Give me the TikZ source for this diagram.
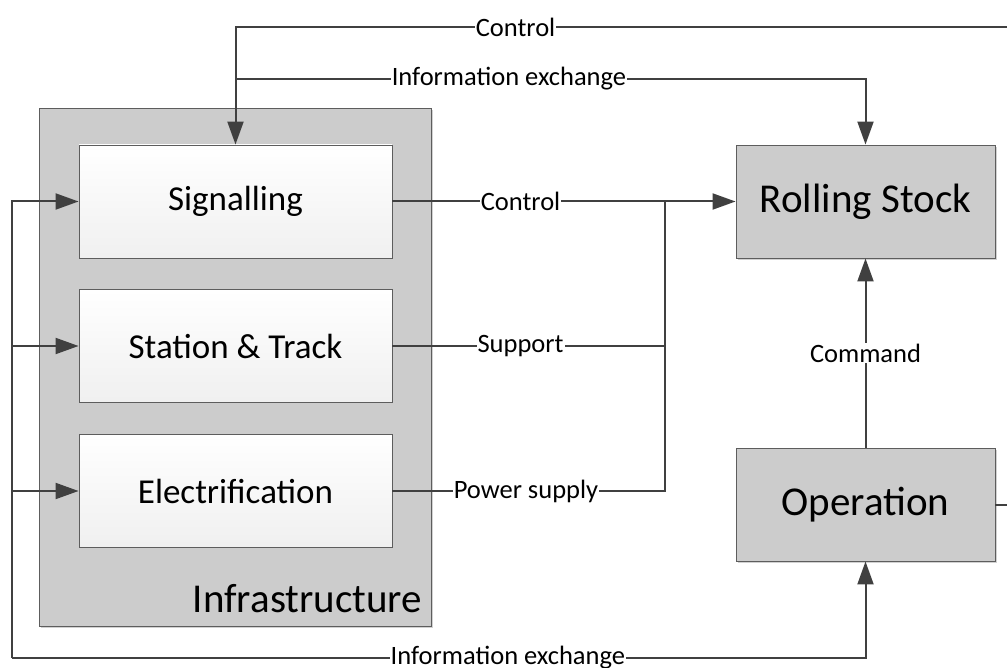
\documentclass[tikz,border=0pt]{standalone}
\usepackage{fontspec}
\setmainfont{Carlito}
\usetikzlibrary{arrows.meta,positioning,shadows}
\definecolor{linegray}{HTML}{404040}
\definecolor{boxgray}{HTML}{CCCCCC}
\tikzset{
  flow/.style={draw=linegray, line width=2pt},
  tip/.style={flow, -{Triangle[length=23pt,width=16pt]}},
  frame/.style={draw=linegray!85, line width=0.9pt},
  infra/.style={frame, fill=boxgray, minimum width=392pt, minimum height=518pt,
    drop shadow={shadow xshift=2pt, shadow yshift=-2pt, fill=gray!45, opacity=0.8}},
  part/.style={frame, top color=white, bottom color=gray!12,
    minimum width=313pt, minimum height=113pt, font=\fontsize{35}{40}\selectfont},
  unit/.style={frame, fill=boxgray, minimum width=259pt, minimum height=113pt,
    font=\fontsize{41}{48}\selectfont,
    drop shadow={shadow xshift=2pt, shadow yshift=-2pt, fill=gray!45, opacity=0.8}},
  tag/.style={fill=white, inner sep=1pt, font=\fontsize{26.5}{30}\selectfont},
}
\begin{document}
\begin{tikzpicture}[x=1pt, y=-1pt]
  \useasboundingbox (0,0) rectangle (1007,668);

  % infrastructure and its parts
  \node[infra] (infra) at (235,367) {};
  \node[anchor=base east, font=\fontsize{41}{48}\selectfont]
    (infralabel) at ([xshift=-6pt, yshift=14pt]infra.south east) {Infrastructure};
  \node[part] (sig) at (235.5,201.5) {Signalling};
  \node[part] (stat) at (235.5,346) {Station \& Track};
  \node[part] (elec) at (235.5,491) {Electrification};

  % rolling stock and operation
  \node[unit] (roll) at (865.5,201.5) {Rolling Stock};
  \node[unit] (oper) at (865.5,504.5) {Operation};

  % junctions and loose ends
  \coordinate (ctlend) at (1007,27);
  \coordinate (infotop) at (235.5,79);
  \coordinate (jbus) at (665,201.5);
  \coordinate (opend) at (1007,504.5);
  \coordinate (botleft) at (12,658);

  % top lines
  \draw[tip] (ctlend) -- node[tag, pos=0.637] {Control} (ctlend -| sig.north) -- (sig.north);
  \draw[tip] (infotop) -- node[tag, pos=0.434] {Information exchange} (infotop -| roll.north) -- (roll.north);

  % infrastructure to rolling stock
  \draw[tip] (sig.east) -- node[tag, pos=0.47] {Control} (jbus) -- (roll.west);
  \draw[flow] (stat.east) -- node[tag, pos=0.47] {Support} (stat.east -| jbus) -- (jbus);
  \draw[flow] (elec.east) -- node[tag, pos=0.49] {Power supply} (elec.east -| jbus) -- (stat.east -| jbus);

  % operation
  \draw[tip] (oper.north) -- node[tag] {Command} (roll.south);
  \draw[flow] (oper.east) -- (opend);

  % bottom loop
  \draw[tip] (botleft) -- node[tag, pos=0.581] {Information exchange} (botleft -| oper.south) -- (oper.south);
  \draw[tip] (botleft) -- (botleft |- sig.west) -- (sig.west);
  \draw[tip] (botleft |- stat.west) -- (stat.west);
  \draw[tip] (botleft |- elec.west) -- (elec.west);
\end{tikzpicture}
\end{document}
